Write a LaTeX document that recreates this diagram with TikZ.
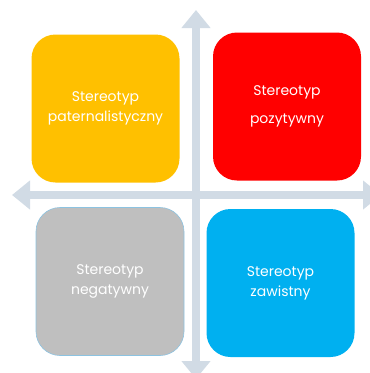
\documentclass[tikz,border=0pt]{standalone}
\usepackage{fontspec}
\setmainfont{Poppins}
\usetikzlibrary{arrows.meta}
\definecolor{axisgray}{RGB}{209,219,229}
\definecolor{quadyellow}{RGB}{255,192,0}
\definecolor{quadred}{RGB}{255,0,0}
\definecolor{quadgray}{RGB}{191,191,191}
\definecolor{quadblue}{RGB}{0,176,240}
\definecolor{edgeblue}{RGB}{140,195,225}
\tikzset{
  quadrant/.style = {
    rounded corners=24pt, minimum width=148pt, minimum height=148pt,
    inner sep=0pt, text=white, align=center,
    font=\fontsize{14}{20}\selectfont
  },
  axis/.style = {
    draw=axisgray, line width=8pt,
    {Triangle[width=28pt,length=18pt]}-{Triangle[width=28pt,length=18pt]}
  }
}

\begin{document}
\begin{tikzpicture}[x=1pt,y=-1pt]
  \useasboundingbox (0,0) rectangle (370,373);
  % axes
  \coordinate (top)    at (196,10);
  \coordinate (bottom) at (196,379);
  \coordinate (left)   at (12,195);
  \coordinate (right)  at (381,195);
  \draw[axis] (left) -- (right);
  \draw[axis] (top) -- (bottom);
  % quadrants
  \node[quadrant,fill=quadyellow] (pater) at (105.5,108.5) {Stereotyp\\paternalistyczny};
  \node[quadrant,fill=quadred]    (pozyt) at (287,106.5)   {Stereotyp\\[8pt]pozytywny};
  \node[quadrant,fill=quadgray,draw=edgeblue,line width=0.6pt] (negat) at (110,281.5) {Stereotyp\\negatywny};
  \node[quadrant,fill=quadblue]   (zawis) at (280.5,283)   {Stereotyp\\zawistny};
\end{tikzpicture}
\end{document}
